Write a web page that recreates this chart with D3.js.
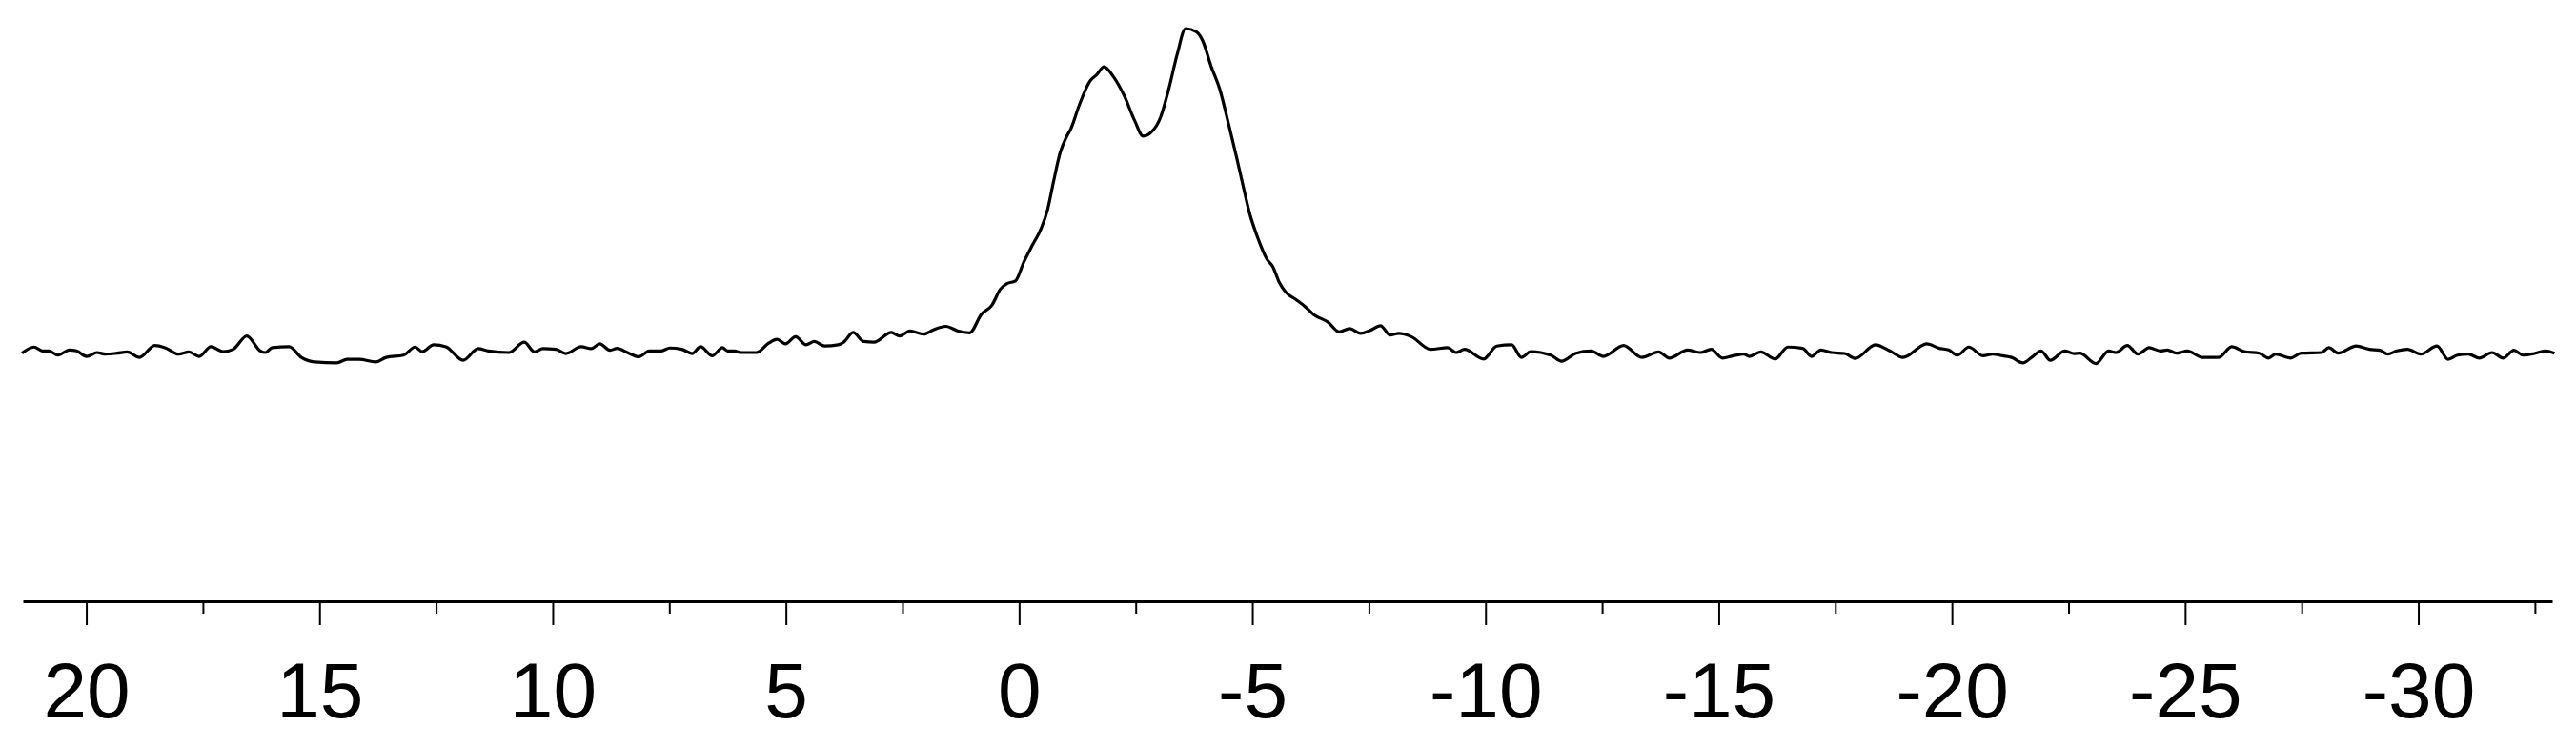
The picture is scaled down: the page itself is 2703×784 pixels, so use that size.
<!DOCTYPE html>
<html>
<head>
<meta charset="utf-8">
<script src="https://cdn.jsdelivr.net/npm/d3@7"></script>
<style>
  body { margin: 0; background: #fff; }
  svg { display: block; }
</style>
</head>
<body>
<script>
// chemical shift (ppm), left to right
var shift = [
  21.38, 21.12, 20.94, 20.80, 20.61, 20.36, 20.21, 19.99, 19.77, 19.59,
  19.34, 19.12, 18.86, 18.53, 18.31, 18.02, 17.80, 17.58, 17.33, 17.07,
  16.85, 16.56, 16.27, 16.16, 16.01, 15.65, 15.39, 15.10, 14.63, 14.41,
  14.15, 13.79, 13.57, 13.20, 12.95, 12.80, 12.55, 12.29, 11.92, 11.60,
  11.38, 10.94, 10.61, 10.39, 10.21, 9.93, 9.72, 9.39, 9.17, 8.99,
  8.77, 8.62, 8.40, 8.15, 7.93, 7.67, 7.49, 7.23, 7.01, 6.83,
  6.58, 6.36, 6.25, 6.10, 5.96, 5.63, 5.37, 5.19, 5.01, 4.79,
  4.57, 4.39, 4.17, 3.88, 3.76, 3.56, 3.33, 3.11, 2.74, 2.56,
  2.34, 2.05, 1.83, 1.57, 1.32, 1.06, 0.81, 0.58, 0.40, 0.26,
  0.08, -0.10, -0.29, -0.47, -0.61, -0.74, -0.88, -1.02, -1.11, -1.29,
  -1.52, -1.66, -1.82, -2.02, -2.25, -2.48, -2.66, -2.84, -3.03, -3.21,
  -3.39, -3.57, -3.80, -3.94, -4.12, -4.30, -4.49, -4.67, -4.81, -4.94,
  -5.12, -5.31, -5.44, -5.58, -5.72, -5.95, -6.13, -6.31, -6.63, -6.86,
  -7.09, -7.32, -7.54, -7.75, -7.95, -8.14, -8.41, -8.82, -9.19, -9.37,
  -9.55, -9.96, -10.24, -10.56, -10.77, -10.97, -11.40, -11.63, -11.94, -12.26,
  -12.53, -12.96, -13.35, -13.71, -13.94, -14.33, -14.61, -14.84, -15.08, -15.31,
  -15.54, -15.66, -15.90, -16.21, -16.48, -16.80, -16.99, -17.19, -17.42, -17.70,
  -17.93, -18.36, -18.67, -18.95, -19.46, -19.73, -19.93, -20.12, -20.36, -20.67,
  -20.87, -21.09, -21.28, -21.52, -21.71, -21.91, -22.11, -22.42, -22.62, -22.74,
  -23.09, -23.36, -23.52, -23.76, -23.99, -24.23, -24.47, -24.62, -24.82, -25.05,
  -25.37, -25.72, -26.00, -26.27, -26.59, -26.79, -26.94, -27.26, -27.49, -27.93,
  -28.08, -28.28, -28.67, -28.95, -29.18, -29.34, -29.54, -29.77, -30.05, -30.40,
  -30.64, -30.84, -31.07, -31.31, -31.58, -31.82, -32.05, -32.25, -32.49, -32.72,
  -32.92
];

// intensity, baseline = 0, tallest peak = 100
var intensity = [
  -0.5, 1.4, 0.2, 0.2, -1.1, 0.5, 0.2, -1.5, -0.3, -0.8,
  -0.5, -0.1, -1.8, 1.9, 1.2, -0.8, -0.1, -1.5, 1.5, 0,
  0.7, 4.8, 0.2, -0.3, 1.2, 1.5, -1.8, -3.2, -3.5, -2.4,
  -2.4, -3.2, -1.8, -1.1, 1.4, 0, 2.1, 1.5, -2.7, 0.9,
  0.2, -0.3, 2.9, -0.1, 0.9, 0.7, -0.6, 1.5, 0.9, 2.4,
  0.4, 1.0, -0.3, -1.6, 0.2, 0.2, 1.1, 0.7, -0.6, 1.5,
  -1.3, 1.2, 0.2, 0.2, -0.3, -0.3, 2.6, 3.8, 2.4, 4.6,
  2.1, 3.1, 1.7, 2.1, 2.9, 5.9, 3.1, 2.9, 5.9, 4.8,
  6.4, 5.4, 6.8, 7.8, 6.4, 5.8, 11.5, 14.4, 19.3, 21.0,
  21.8, 27.6, 33.0, 37.9, 43.8, 52.6, 61.4, 66.4, 68.8, 76.1,
  83.5, 85.4, 87.9, 84.9, 79.1, 71.2, 66.5, 67.8, 72.2, 81.1,
  91.8, 99.7, 98.7, 95.8, 87.9, 81.1, 70.3, 59.5, 50.7, 42.8,
  35.0, 28.6, 26.2, 21.3, 18.3, 15.9, 13.9, 11.5, 9.0, 6.1,
  7.1, 5.6, 6.6, 8.0, 5.1, 5.6, 4.6, 0.7, 1.2, -0.3,
  0.7, -2.3, 1.7, 2.1, -1.8, 0, -1.1, -3.0, -0.5, 0.2,
  -1.5, 1.9, -1.8, -0.1, -2.0, 0.5, -0.3, 0.7, -2.0, -1.3,
  -0.8, -1.5, -0.1, -2.3, 1.4, 1.0, -1.5, 0.5, -0.3, -0.6,
  -2.1, 2.1, 0.2, -1.8, 2.4, 1.0, 0.5, -1.1, 1.4, -1.3,
  -0.8, -1.3, -1.8, -3.5, -1.8, 0.2, -2.7, 0.2, -0.6, -0.5,
  -3.7, 0.2, -0.3, 1.9, -0.8, 1.2, 0.2, 0.5, -0.5, 0.2,
  -1.8, -1.8, 1.5, 0, -0.5, -2.0, -0.8, -2.0, -0.5, -0.3,
  1.2, -0.5, 1.7, 0.7, 0.4, -0.8, 0.2, 0.7, -0.8, 1.7,
  -2.4, -1.1, -0.8, -2.0, -0.3, -2.0, 0.4, -1.1, -0.6, 0.2,
  -0.5
];

var majorTicks = [20, 15, 10, 5, 0, -5, -10, -15, -20, -25, -30];
var minorTicks = [17.5, 12.5, 7.5, 2.5, -2.5, -7.5, -12.5, -17.5, -22.5, -27.5, -32.5];

var width = 2703, height = 784;
var axisY = 631;

var svg = d3.select("body").append("svg")
    .attr("width", width)
    .attr("height", height);

var x = d3.scaleLinear().domain([21.36, -32.87]).range([24, 2678]);
var y = d3.scaleLinear().domain([0, 100]).range([369, 29]);

var data = shift.map(function(s, i){ return {s: s, v: intensity[i]}; });

var line = d3.line()
    .x(function(d){ return x(d.s); })
    .y(function(d){ return y(d.v); })
    .curve(d3.curveMonotoneX);

svg.append("path")
    .datum(data)
    .attr("d", line)
    .attr("fill", "none")
    .attr("stroke", "#000")
    .attr("stroke-width", 3.2)
    .attr("stroke-linejoin", "round");

// minor ticks first, no labels
svg.append("g")
    .attr("transform", "translate(0," + axisY + ")")
    .call(d3.axisBottom(x).tickValues(minorTicks).tickSize(13).tickSizeOuter(0).tickFormat(""))
    .call(function(g){ g.select(".domain").remove(); })
    .selectAll("line").attr("stroke", "#000").attr("stroke-width", 2);

var gx = svg.append("g")
    .attr("transform", "translate(0," + axisY + ")")
    .call(d3.axisBottom(x).tickValues(majorTicks).tickSize(25).tickSizeOuter(0)
        .tickFormat(function(d){ return String(d); }));

gx.select(".domain").attr("stroke", "#000").attr("stroke-width", 2.8);
gx.selectAll(".tick line").attr("stroke", "#000").attr("stroke-width", 2);
gx.selectAll(".tick text")
    .attr("y", 122)
    .attr("dy", null)
    .attr("fill", "#000")
    .style("font-family", "'Liberation Sans', Arial, sans-serif")
    .style("font-size", "82px");
</script>
</body>
</html>
